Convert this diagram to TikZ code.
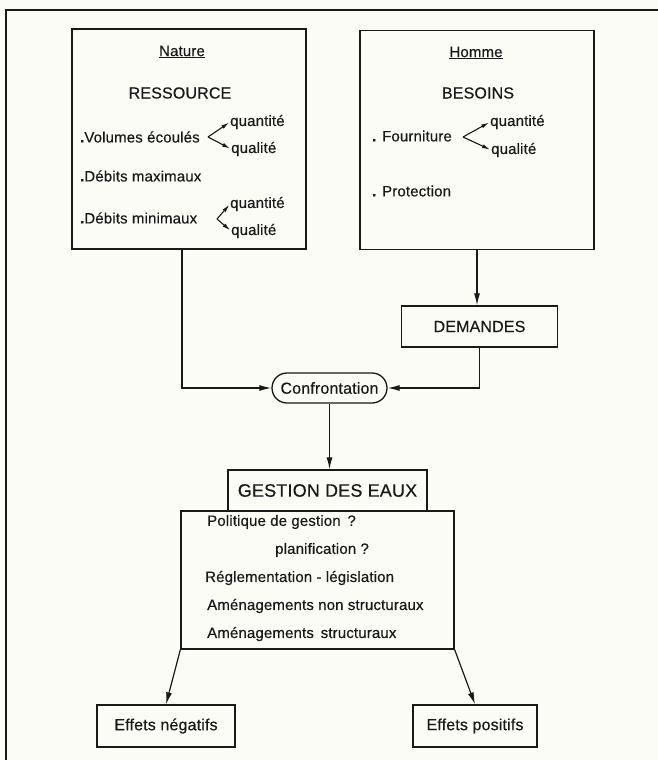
\documentclass[tikz,border=0pt]{standalone}
\usepackage{fontspec}
\setmainfont{Liberation Sans}[LetterSpace=1, FakeBold=0.4]
\usetikzlibrary{arrows.meta}

\begin{document}
\begin{tikzpicture}[x=1pt,y=-1pt,
	box/.style={draw=INK, line width=1.3, inner sep=0},
	lbl/.style={font=\fontsize{15}{17}\selectfont, text=INK, inner sep=0, anchor=west},
	ttl/.style={font=\fontsize{16}{19}\selectfont, text=INK, inner sep=0},
	arr/.style={draw=INK, line width=1.2, -{Latex[length=12pt,width=6pt]}},
	fork/.style={draw=INK, line width=1.1, shorten >=1pt, -{Latex[length=8pt,width=4pt]}}]
	\definecolor{INK}{RGB}{25,25,25}
	\definecolor{PAPER}{RGB}{252,252,247}
	\fill[PAPER] (0,0) rectangle (658,760);
	\useasboundingbox (0,0) rectangle (658,760);
	\draw[INK, line width=1.1] (6,770) -- (6,10) -- (670,10);

	\node[box, minimum width=234, minimum height=220] (nature) at (189,139) {};
	\node[lbl, anchor=center] (natttl) at (182,52) {\underline{Nature}};
	\node[ttl] (ress) at (180,93) {RESSOURCE};
	\node[lbl] (vol) at (80,137) {{\bfseries .}Volumes écoulés};
	\coordinate (volv) at (208,137);
	\node[lbl] (volqt) at (230,122) {quantité};
	\node[lbl] (volql) at (231,149) {qualité};
	\draw[fork] (volv) -- (volqt.west);
	\draw[fork] (volv) -- (volql.west);
	\node[lbl] (dmax) at (80,176) {{\bfseries .}Débits maximaux};
	\node[lbl] (dmin) at (80,218) {{\bfseries .}Débits minimaux};
	\coordinate (dminv) at (217,219);
	\node[lbl] (dminqt) at (230,204) {quantité};
	\node[lbl] (dminql) at (231,231) {qualité};
	\draw[fork] (dminv) -- (dminqt.west);
	\draw[fork] (dminv) -- (dminql.west);

	\node[box, minimum width=234, minimum height=219] (homme) at (477,140) {};
	\node[lbl, anchor=center] (homttl) at (476,53) {\underline{Homme}};
	\node[ttl] (besoins) at (478,93) {BESOINS};
	\node[lbl] (fourn) at (372,136) {{\bfseries .} Fourniture};
	\coordinate (fournv) at (463,137);
	\node[lbl] (fournqt) at (490,122) {quantité};
	\node[lbl] (fournql) at (491,150) {qualité};
	\draw[fork] (fournv) -- (fournqt.west);
	\draw[fork] (fournv) -- (fournql.west);
	\node[lbl] (protec) at (372,191) {{\bfseries .} Protection};

	\node[box, ttl, minimum width=156, minimum height=41] (demandes) at (479.5,326.5) {DEMANDES};
	\node[box, ttl, rounded corners=15, minimum width=115, minimum height=30] (conf) at (329.5,388) {Confrontation};

	\node[box, font=\fontsize{18}{21}\selectfont, text=INK, minimum width=199, minimum height=41] (gest) at (327.5,490.5) {GESTION DES EAUX};
	\node[box, minimum width=273, minimum height=138] (gestbody) at (317.5,580) {};
	\node[lbl] (polit) at (207,522) {Politique de gestion \,?};
	\node[lbl] (planif) at (275,550) {planification ?};
	\node[lbl] (regl) at (205,578) {Réglementation - législation};
	\node[lbl] (amnon) at (207,606) {Aménagements non structuraux};
	\node[lbl] (amstr) at (207,634) {Aménagements \,structuraux};

	\node[box, ttl, minimum width=138, minimum height=42] (neg) at (166,726) {Effets négatifs};
	\node[box, ttl, minimum width=124, minimum height=42] (pos) at (475,726) {Effets positifs};

	\draw[arr] ([xshift=-7]nature.south) |- (conf.west);
	\draw[arr] (homme.south) -- (homme.south |- demandes.north);
	\draw[arr] (demandes.south) |- (conf.east);
	\draw[arr] (conf.south) -- (conf.south |- gest.north);
	\draw[arr] (gestbody.south west) -- (neg.north);
	\draw[arr] (gestbody.south east) -- (pos.north);
\end{tikzpicture}
\end{document}
